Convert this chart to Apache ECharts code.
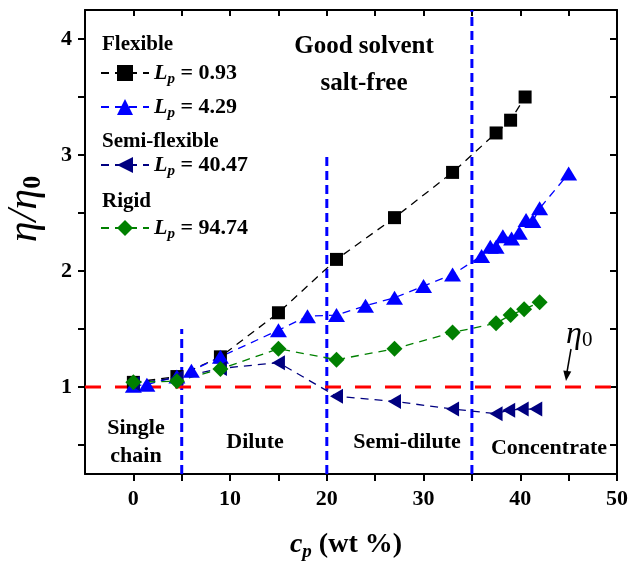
<!DOCTYPE html>
<html>
<head>
<meta charset="utf-8">
<script src="https://cdn.jsdelivr.net/npm/echarts@6/dist/echarts.min.js"></script>
<style>html,body{margin:0;padding:0;background:#fff}#c{width:631px;height:566px}</style>
</head>
<body>
<div id="c"></div>
<script>
// ---- data ----
const seriesNames = ['Lp = 0.93', 'Lp = 4.29', 'Lp = 40.47', 'Lp = 94.74'];

const cpFlexible1 = [0, 4.5, 9, 15, 21, 27, 33, 37.5, 39, 40.5];
const etaFlexible1 = [1.04, 1.09, 1.26, 1.64, 2.10, 2.46, 2.85, 3.19, 3.30, 3.50];

const cpFlexible2 = [0, 1.4, 4.5, 6, 9, 15, 18, 21, 24, 27, 30, 33, 36, 36.9, 37.5, 38.2, 39.1, 39.9, 40.6, 41.3, 42, 45];
const etaFlexible2 = [1.01, 1.02, 1.09, 1.14, 1.26, 1.49, 1.61, 1.62, 1.70, 1.77, 1.87, 1.97, 2.13, 2.21, 2.21, 2.30, 2.28, 2.33, 2.44, 2.43, 2.54, 2.84];

const cpSemiFlexible = [0, 4.5, 9, 15, 21, 27, 33, 37.5, 38.8, 40.2, 41.6];
const etaSemiFlexible = [1.03, 1.08, 1.16, 1.21, 0.92, 0.876, 0.81, 0.77, 0.80, 0.81, 0.81];

const cpRigid = [0, 4.5, 9, 15, 21, 27, 33, 37.5, 39, 40.4, 42];
const etaRigid = [1.04, 1.05, 1.155, 1.33, 1.235, 1.33, 1.47, 1.55, 1.62, 1.67, 1.73];

const regionBounds = [5, 20, 35];
const regionBoundTops = [1.5, 3.0, 4.25];
const eta0Level = 1;

const xMin = -5, xMax = 50;
const yMin = 0.25, yMax = 4.25;
const xTickValues = [0, 5, 10, 15, 20, 25, 30, 35, 40, 45, 50];
const xLabelValues = [0, 10, 20, 30, 40, 50];
const yTickValues = [0.5, 1, 1.5, 2, 2.5, 3, 3.5, 4];
const yLabelValues = [1, 2, 3, 4];

// ---- helpers ----
const zip = (xs, ys) => xs.map((x, i) => [x, ys[i]]);
const FONT = 'Liberation Serif';

const chart = echarts.init(document.getElementById('c'), null, { renderer: 'canvas' });

const colors = ['#000000', '#0000ff', '#000080', '#008000'];
const symbols = ['rect', 'triangle', 'triangle', 'diamond'];
const symbolSizes = [13, [17, 14], [15, 13], 16];
const symbolRotates = [0, 0, 90, 0];
const dataSets = [
  zip(cpFlexible1, etaFlexible1),
  zip(cpFlexible2, etaFlexible2),
  zip(cpSemiFlexible, etaSemiFlexible),
  zip(cpRigid, etaRigid)
];

const refSeries = [];
regionBounds.forEach((b, i) => {
  refSeries.push({
    type: 'line', name: 'bound' + i, silent: true, symbol: 'none', z: 1,
    data: [[b, yMin], [b, regionBoundTops[i]]],
    lineStyle: { color: '#0000ff', width: 3, type: [9, 5] }
  });
});
refSeries.push({
  type: 'line', name: 'eta0', silent: true, symbol: 'none', z: 1,
  data: [[xMin, eta0Level], [xMax, eta0Level]],
  lineStyle: { color: '#ff0000', width: 3, type: [16, 14] }
});

const dataSeries = seriesNames.map((n, i) => ({
  type: 'line', name: n, z: 3,
  data: dataSets[i],
  symbol: symbols[i], symbolSize: symbolSizes[i], symbolRotate: symbolRotates[i],
  showSymbol: true,
  itemStyle: { color: colors[i] },
  lineStyle: { color: colors[i], width: 1.3, type: [8, 6] }
}));

const legendRich = {
  i: { fontFamily: FONT, fontSize: 22, fontWeight: 'bold', fontStyle: 'italic', color: '#000' },
  s: { fontFamily: FONT, fontSize: 15, fontWeight: 'bold', fontStyle: 'italic', color: '#000', padding: [12, 0, 0, 0] },
  n: { fontFamily: FONT, fontSize: 22, fontWeight: 'bold', color: '#000' }
};
const legendRowCenters = [73, 107, 165, 228];
const legendItemH = 20;
const legends = seriesNames.map((n, i) => ({
  data: [n], left: 100, top: legendRowCenters[i] - 11, padding: 0,
  itemWidth: 48, itemHeight: legendItemH, itemGap: 0,
  formatter: name => '{i|L}{s|p}{n| = ' + name.split('= ')[1] + '}',
  textStyle: { rich: legendRich }
}));

const boldText = (x, y, text, size, align) => ({
  type: 'text', x: x, y: y, silent: true,
  style: { text: text, font: 'bold ' + size + 'px ' + FONT, fill: '#000', align: align || 'center', verticalAlign: 'middle' }
});

chart.setOption({
  animation: false,
  backgroundColor: '#fff',
  grid: { left: 85, right: 14, top: 10, bottom: 92 },
  legend: legends,
  xAxis: [{
    type: 'value', min: xMin, max: xMax, position: 'bottom',
    axisLine: { show: true, onZero: false, lineStyle: { color: '#000', width: 2 } },
    axisTick: { show: true, inside: false, length: 7, customValues: xTickValues, lineStyle: { color: '#000', width: 2 } },
    axisLabel: { customValues: xLabelValues, margin: 14, fontFamily: FONT, fontSize: 22, fontWeight: 'bold', color: '#000' },
    splitLine: { show: false }
  }, {
    type: 'value', min: xMin, max: xMax, position: 'top',
    axisLine: { show: true, onZero: false, lineStyle: { color: '#000', width: 2 } },
    axisTick: { show: true, inside: true, length: 6, customValues: xTickValues, lineStyle: { color: '#000', width: 2 } },
    axisLabel: { show: false },
    splitLine: { show: false }
  }],
  yAxis: [{
    type: 'value', min: yMin, max: yMax, position: 'left',
    axisLine: { show: true, onZero: false, lineStyle: { color: '#000', width: 2 } },
    axisTick: { show: true, inside: false, length: 7, customValues: yTickValues, lineStyle: { color: '#000', width: 2 } },
    axisLabel: { customValues: yLabelValues, margin: 13, fontFamily: FONT, fontSize: 22, fontWeight: 'bold', color: '#000' },
    splitLine: { show: false }
  }, {
    type: 'value', min: yMin, max: yMax, position: 'right',
    axisLine: { show: true, onZero: false, lineStyle: { color: '#000', width: 2 } },
    axisTick: { show: true, inside: true, length: 7, customValues: yTickValues, lineStyle: { color: '#000', width: 2 } },
    axisLabel: { show: false },
    splitLine: { show: false }
  }],
  series: refSeries.concat(dataSeries),
  graphic: [
    boldText(102, 45, 'Flexible', 21, 'left'),
    boldText(102, 142, 'Semi-flexible', 21, 'left'),
    boldText(102, 202, 'Rigid', 21, 'left'),
    boldText(364, 47, 'Good solvent', 25),
    boldText(364, 84, 'salt-free', 25),
    boldText(136, 428, 'Single', 22),
    boldText(136, 456, 'chain', 22),
    boldText(255, 442, 'Dilute', 22),
    boldText(407, 442, 'Semi-dilute', 22),
    boldText(549, 448, 'Concentrate', 22),
    {
      type: 'text', x: 566, y: 335, silent: true,
      style: {
        text: '{a|η}{b|0}', align: 'left', verticalAlign: 'middle',
        rich: {
          a: { fontFamily: FONT, fontSize: 32, fontStyle: 'italic', fill: '#000' },
          b: { fontFamily: FONT, fontSize: 21, fill: '#000', padding: [10, 0, 0, 0] }
        }
      }
    },
    { type: 'line', silent: true, shape: { x1: 571, y1: 349, x2: 567, y2: 372 }, style: { stroke: '#000', lineWidth: 1.5 } },
    { type: 'polygon', silent: true, shape: { points: [[566, 381], [571.3, 371.6], [563.3, 370.6]] }, style: { fill: '#000' } },
    {
      type: 'text', x: 25, y: 209, rotation: Math.PI / 2, silent: true,
      style: {
        text: '{a|η/η}{b|0}', align: 'center', verticalAlign: 'middle',
        rich: {
          a: { fontFamily: FONT, fontSize: 42, fontStyle: 'italic', fill: '#000' },
          b: { fontFamily: FONT, fontSize: 26, fontWeight: 'bold', fill: '#000', padding: [16, 0, 0, 0] }
        }
      }
    },
    {
      type: 'text', x: 346, y: 545, silent: true,
      style: {
        text: '{a|c}{b|p}{c| (wt %)}', align: 'center', verticalAlign: 'middle',
        rich: {
          a: { fontFamily: FONT, fontSize: 28, fontStyle: 'italic', fontWeight: 'bold', fill: '#000' },
          b: { fontFamily: FONT, fontSize: 19, fontStyle: 'italic', fontWeight: 'bold', fill: '#000', padding: [14, 0, 0, 0] },
          c: { fontFamily: FONT, fontSize: 28, fontWeight: 'bold', fill: '#000' }
        }
      }
    }
  ]
});
</script>
</body>
</html>
